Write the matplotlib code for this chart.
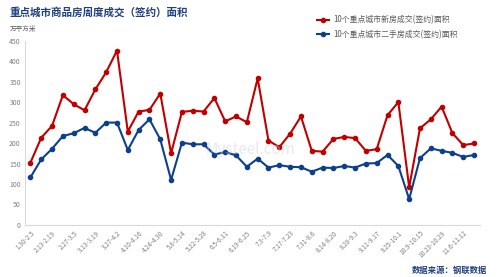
import matplotlib
matplotlib.use("Agg")
import matplotlib.pyplot as plt

plt.rcParams['font.family'] = ['Noto Sans CJK SC', 'DejaVu Sans']

# weekly ranges (every other one is labelled on the axis)
weeks = ['1.30-2.5', '2.6-2.12', '2.13-2.19', '2.20-2.26', '2.27-3.5', '3.6-3.12',
         '3.13-3.19', '3.20-3.26', '3.27-4.2', '4.3-4.9', '4.10-4.16', '4.17-4.23',
         '4.24-4.30', '5.1-5.7', '5.8-5.14', '5.15-5.21', '5.22-5.28', '5.29-6.4',
         '6.5-6.11', '6.12-6.18', '6.19-6.25', '6.26-7.2', '7.3-7.9', '7.10-7.16',
         '7.17-7.23', '7.24-7.30', '7.31-8.6', '8.7-8.13', '8.14-8.20', '8.21-8.27',
         '8.28-9.3', '9.4-9.10', '9.11-9.17', '9.18-9.24', '9.25-10.1', '10.2-10.8',
         '10.9-10.15', '10.16-10.22', '10.23-10.29', '10.30-11.5', '11.6-11.12',
         '11.13-11.19']

new_homes = [152, 213, 242, 317, 295, 280, 331, 373, 426, 228, 277, 281, 321, 175,
             276, 279, 277, 310, 253, 265, 251, 358, 206, 190, 223, 265, 181, 179,
             210, 215, 212, 181, 185, 268, 300, 92, 236, 258, 289, 224, 195, 199]

second_hand = [116, 160, 186, 217, 224, 237, 225, 250, 250, 183, 232, 258, 209, 110,
               201, 197, 197, 172, 178, 170, 142, 162, 140, 146, 142, 141, 130, 140,
               139, 144, 140, 150, 151, 171, 144, 63, 163, 187, 181, 176, 166, 171]

red = '#C00000'
blue = '#0E3F8C'
title_blue = '#1F3F7F'
grey = '#7F7F7F'

fig = plt.figure(figsize=(5, 2.77), dpi=100)
ax = fig.add_axes([0.05, 0.188, 0.909, 0.665])

x = list(range(len(weeks)))
ax.plot(x, new_homes, color=red, lw=1.5, marker='o', ms=3.0,
        label='10个重点城市新房成交(签约)面积')
ax.plot(x, second_hand, color=blue, lw=1.5, marker='o', ms=3.0,
        label='10个重点城市二手房成交(签约)面积')

ax.set_xlim(-0.5, len(weeks) - 0.5)
ax.set_ylim(0, 450)
ax.set_yticks(range(0, 451, 50))
ax.set_xticks(x[::2])
ax.set_xticklabels(weeks[::2], rotation=45, ha='right', rotation_mode='anchor')
ax.tick_params(axis='x', labelsize=4.6, colors=grey, length=0, pad=3)
ax.tick_params(axis='y', labelsize=5, colors=grey, length=0, pad=3)

for s in ['top', 'right']:
    ax.spines[s].set_visible(False)
for s in ['left', 'bottom']:
    ax.spines[s].set_color('#D9D9D9')
    ax.spines[s].set_linewidth(0.8)

ax.legend(loc='upper left', bbox_to_anchor=(0.634, 0.945),
          bbox_transform=fig.transFigure, frameon=False, borderpad=0,
          borderaxespad=0, fontsize=5.7, labelcolor='#595959',
          handlelength=1.5, handletextpad=0.5, labelspacing=0.7)

fig.text(0.02, 0.955, '重点城市商品房周度成交（签约）面积', fontsize=7.6,
         color=title_blue, fontweight='bold', va='center')
fig.text(0.02, 0.895, '万平方米', fontsize=4.8, color='#595959', va='center')
fig.text(0.974, 0.025, '数据来源：钢联数据', fontsize=6.0, color=title_blue,
         fontweight='bold', ha='right', va='center')

# faint watermark
fig.text(0.5, 0.46, 'Mysteel.com', fontsize=11, color='#C8CFE0', alpha=0.45,
         ha='center', va='center', zorder=0)

fig.savefig('out.png', dpi=100)
